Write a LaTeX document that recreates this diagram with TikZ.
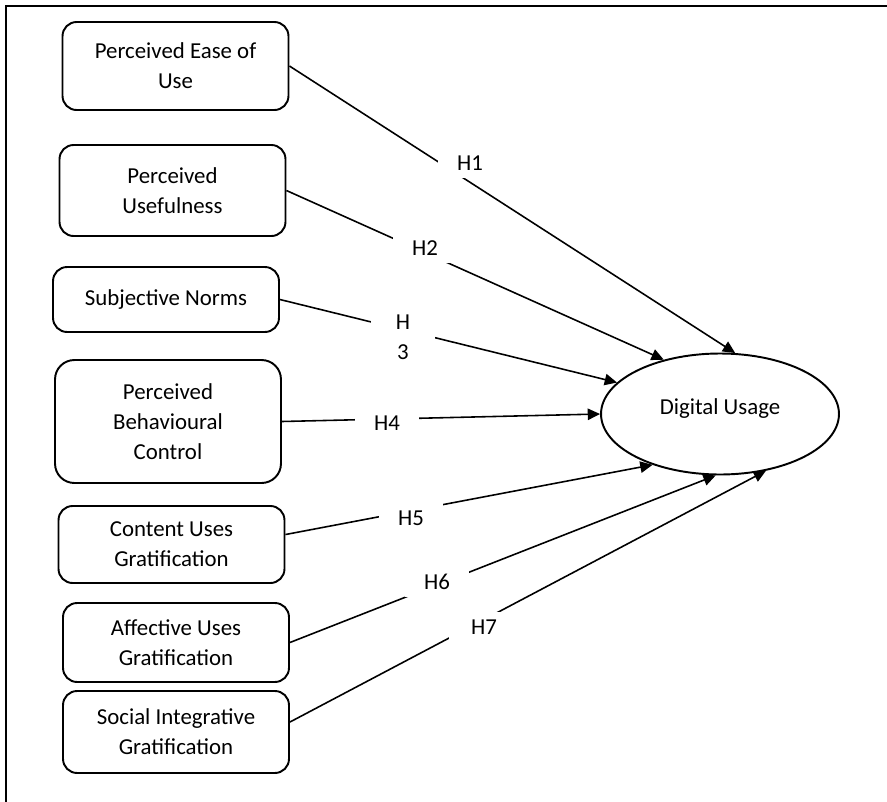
\documentclass[tikz,border=0pt]{standalone}
\usepackage{fontspec}
\setmainfont{Carlito}
\usetikzlibrary{arrows.meta,shapes.geometric}

\tikzset{
  construct/.style={draw, line width=1.1pt, rounded corners=8pt, minimum width=4.52cm, align=center, inner sep=2pt},
  outcome/.style={draw, ellipse, line width=1.1pt, minimum width=4.76cm, minimum height=2.42cm, inner sep=0pt, text height=0pt, text depth=0pt},
  link/.style={line width=0.9pt, -{Triangle[length=7pt, width=6.5pt]}},
  hyp/.style={fill=white, minimum width=1.3cm, minimum height=0.6cm, inner sep=0pt, align=center}
}

\begin{document}
\begin{tikzpicture}[x=0.02cm, y=-0.02cm, font=\fontsize{13}{17}\selectfont]
                \useasboundingbox (0,0) rectangle (887,802);
                % frame (top and left only)
                \draw[line width=1.3pt] (6,802) -- (6,6) -- (887,6);

                % constructs
                \node[construct, minimum height=1.76cm] (peou) at (175.5,66) {Perceived Ease of\\Use};
                \node[construct, minimum height=1.82cm] (pu) at (172.5,190.5) {Perceived\\Usefulness};
                \node[construct, minimum height=1.30cm] (sn) at (166,299.5) {Subjective Norms};
                \node[construct, minimum height=2.46cm, rounded corners=11pt] (pbc) at (168,421.5) {Perceived\\Behavioural\\Control};
                \node[construct, minimum height=1.54cm] (cug) at (171.5,544.5) {Content Uses\\Gratification};
                \node[construct, minimum height=1.58cm] (aug) at (176,642.5) {Affective Uses\\Gratification};
                \node[construct, minimum height=1.64cm] (sig) at (176,732) {Social Integrative\\Gratification};

                % outcome
                \node[outcome] (du) at (720,414) {Digital Usage};

                % hypotheses
                \draw[link] (peou.east) -- (du.76.8);
                \draw[link] (pu.east) -- (du.136);
                \draw[link] (sn.east) -- (du.163.5);
                \draw[link] (pbc.east) -- (du.180);
                \draw[link] (cug.5) -- (du.217);
                \draw[link] (aug.east) -- (du.266);
                \draw[link] (sig.5) -- (du.309);

                % labels sit on top of the lines
                \node[hyp] (h1) at (470,163) {H1};
                \node[hyp] (h2) at (425,248) {H2};
                \node[hyp] (h3) at (403,337) {H\\3};
                \node[hyp] (h4) at (387,423) {H4};
                \node[hyp] (h5) at (411,518) {H5};
                \node[hyp] (h6) at (437,582) {H6};
                \node[hyp, minimum width=1.4cm] (h7) at (484,627) {H7};
            \end{tikzpicture}
\end{document}
